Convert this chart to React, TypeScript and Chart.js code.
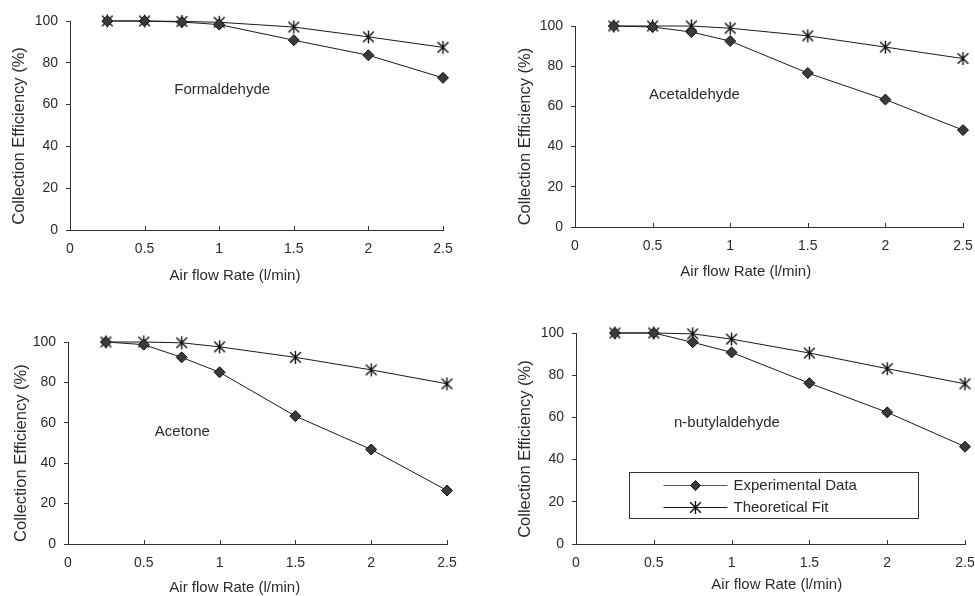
import React, { useEffect, useRef } from "react";
import { Chart, registerables } from "chart.js";

Chart.register(...registerables);

// ---------- data ----------
const flowRates = [0.25, 0.5, 0.75, 1, 1.5, 2, 2.5];

const formaldehydeExp = [100, 100, 99.5, 98.3, 90.8, 83.6, 72.8];
const formaldehydeFit = [100, 100, 99.8, 99.4, 97.1, 92.4, 87.4];

const acetaldehydeExp = [100, 99.5, 97, 92.5, 76.6, 63.4, 48.2];
const acetaldehydeFit = [100, 100, 100, 98.9, 95.1, 89.5, 83.8];

const acetoneExp = [100, 98.7, 92.4, 85, 63.3, 46.8, 26.5];
const acetoneFit = [100, 100, 99.6, 97.6, 92.4, 86.2, 79.3];

const butylExp = [100, 100, 95.6, 90.8, 76.2, 62.4, 46.1];
const butylFit = [100, 100, 99.6, 97.1, 90.5, 83.1, 75.9];

const compoundNames = ["Formaldehyde", "Acetaldehyde", "Acetone", "n-butylaldehyde"];
const seriesLabels = ["Experimental Data", "Theoretical Fit"];
const xAxisTitle = "Air flow Rate (l/min)";
const yAxisTitle = "Collection Efficiency (%)";
const xMin = 0, xMax = 2.5, xStep = 0.5;
const yMin = 0, yMax = 100, yStep = 20;

// ---------- style ----------
const FONT = "'Liberation Sans', Arial, Helvetica, sans-serif";
const TEXT = "#2b2b2b";
const AXIS = "#333333";
const LINE = "#1a1a1a";
const DIAMOND_FILL = "#3a3a3a";

type Panel = {
  name: string;
  exp: number[];
  fit: number[];
  box: { left: number; top: number; w: number; h: number };
  area: { left: number; top: number; right: number; bottom: number };
  yTitle: { px: number; y: number };
  xTitle: { x: number; dy: number };
  label: { x: number; y: number };
  legend?: { x0: number; x1: number; y0: number; y1: number };
};

const panels: Panel[] = [
  {
    name: compoundNames[0], exp: formaldehydeExp, fit: formaldehydeFit,
    box: { left: 0, top: 0, w: 490, h: 298 },
    area: { left: 70, top: 21, right: 443, bottom: 230 },
    yTitle: { px: 19, y: 45 },
    xTitle: { x: 1.106, dy: 46 },
    label: { x: 1.02, y: 67 },
  },
  {
    name: compoundNames[1], exp: acetaldehydeExp, fit: acetaldehydeFit,
    box: { left: 490, top: 0, w: 485, h: 298 },
    area: { left: 85, top: 26, right: 473, bottom: 227 },
    yTitle: { px: 35, y: 45 },
    xTitle: { x: 1.10, dy: 45 },
    label: { x: 0.77, y: 65.6 },
  },
  {
    name: compoundNames[2], exp: acetoneExp, fit: acetoneFit,
    box: { left: 0, top: 298, w: 490, h: 298 },
    area: { left: 68, top: 44, right: 447, bottom: 246 },
    yTitle: { px: 21, y: 45 },
    xTitle: { x: 1.10, dy: 44 },
    label: { x: 0.754, y: 55.5 },
  },
  {
    name: compoundNames[3], exp: butylExp, fit: butylFit,
    box: { left: 490, top: 298, w: 485, h: 298 },
    area: { left: 86, top: 35, right: 475, bottom: 246 },
    yTitle: { px: 35, y: 45 },
    xTitle: { x: 1.29, dy: 41 },
    label: { x: 0.97, y: 57.4 },
    legend: { x0: 0.342, x1: 2.198, y0: 34.1, y1: 12.2 },
  },
];

// asterisk marker: X plus a vertical stroke
function makeAsterisk(r: number): HTMLCanvasElement {
  const size = Math.ceil(r * 2 + 4);
  const c = document.createElement("canvas");
  c.width = size;
  c.height = size;
  const ctx = c.getContext("2d")!;
  const m = size / 2;
  const d = r * 0.82;
  ctx.strokeStyle = "#0a0a0a";
  ctx.lineWidth = 1.35;
  ctx.beginPath();
  ctx.moveTo(m - d, m - d); ctx.lineTo(m + d, m + d);
  ctx.moveTo(m - d, m + d); ctx.lineTo(m + d, m - d);
  ctx.moveTo(m, m - r); ctx.lineTo(m, m + r);
  ctx.stroke();
  return c;
}

function drawDiamond(ctx: CanvasRenderingContext2D, x: number, y: number, r: number) {
  ctx.beginPath();
  ctx.moveTo(x, y - r);
  ctx.lineTo(x + r, y);
  ctx.lineTo(x, y + r);
  ctx.lineTo(x - r, y);
  ctx.closePath();
  ctx.fillStyle = DIAMOND_FILL;
  ctx.fill();
  ctx.strokeStyle = "#111";
  ctx.lineWidth = 1;
  ctx.stroke();
}

const overlayPlugin = {
  id: "overlay",
  afterDatasetsDraw(chart: any, _args: any, opts: any) {
    const ctx: CanvasRenderingContext2D = chart.ctx;
    const xs = chart.scales.x, ys = chart.scales.y;
    const ca = chart.chartArea;
    ctx.save();

    // inward x tick marks
    ctx.strokeStyle = AXIS;
    ctx.lineWidth = 1;
    ctx.beginPath();
    xs.ticks.forEach((t: any) => {
      const px = Math.round(xs.getPixelForValue(t.value)) + 0.5;
      ctx.moveTo(px, ca.bottom);
      ctx.lineTo(px, ca.bottom - 4);
    });
    ctx.stroke();

    // compound name
    ctx.fillStyle = TEXT;
    ctx.font = `15px ${FONT}`;
    ctx.textAlign = "center";
    ctx.textBaseline = "middle";
    ctx.fillText(opts.text, xs.getPixelForValue(opts.pos.x), ys.getPixelForValue(opts.pos.y));

    // axis titles
    ctx.fillText(opts.xTitleText, xs.getPixelForValue(opts.xTitle.x), ca.bottom + opts.xTitle.dy);
    ctx.save();
    ctx.translate(opts.yTitle.px, ys.getPixelForValue(opts.yTitle.y));
    ctx.rotate(-Math.PI / 2);
    ctx.font = `16.5px ${FONT}`;
    ctx.fillText(opts.yTitleText, 0, 0);
    ctx.restore();

    if (opts.legend) {
      const L = opts.legend;
      const bx0 = Math.round(xs.getPixelForValue(L.x0)) + 0.5;
      const bx1 = Math.round(xs.getPixelForValue(L.x1)) + 0.5;
      const by0 = Math.round(ys.getPixelForValue(L.y0)) + 0.5;
      const by1 = Math.round(ys.getPixelForValue(L.y1)) + 0.5;
      ctx.fillStyle = "#fff";
      ctx.fillRect(bx0, by0, bx1 - bx0, by1 - by0);
      ctx.strokeStyle = "#333";
      ctx.lineWidth = 1;
      ctx.strokeRect(bx0, by0, bx1 - bx0, by1 - by0);
      const rows = [by0 + 12, by0 + 34];
      chart.data.datasets.forEach((ds: any, i: number) => {
        const ry = Math.round(rows[i]) + 0.5;
        ctx.beginPath();
        ctx.moveTo(bx0 + 34, ry);
        ctx.lineTo(bx0 + 98, ry);
        ctx.strokeStyle = i === 0 ? "#555" : LINE;
        ctx.lineWidth = 1;
        ctx.stroke();
        if (i === 0) drawDiamond(ctx, bx0 + 66, ry, 5);
        else ctx.drawImage(ds.pointStyle, Math.round(bx0 + 66 - ds.pointStyle.width / 2), Math.round(ry - ds.pointStyle.height / 2));
        ctx.fillStyle = TEXT;
        ctx.font = `15px ${FONT}`;
        ctx.textAlign = "left";
        ctx.textBaseline = "middle";
        ctx.fillText(ds.label, bx0 + 104, ry);
      });
    }
    ctx.restore();
  },
};

function PanelChart({ p }: { p: Panel }) {
  const ref = useRef<HTMLCanvasElement | null>(null);
  useEffect(() => {
    if (!ref.current) return;
    const { w, h } = p.box;
    const a = p.area;
    const asterisk = makeAsterisk(6.5);
    const chart = new Chart(ref.current, {
      type: "line",
      data: {
        datasets: [
          {
            label: seriesLabels[0],
            data: flowRates.map((x, i) => ({ x, y: p.exp[i] })),
            borderColor: LINE,
            borderWidth: 1,
            pointStyle: "rectRot",
            pointRadius: 5.5,
            pointBackgroundColor: DIAMOND_FILL,
            pointBorderColor: "#111",
            pointBorderWidth: 1,
            tension: 0,
            clip: false,
          } as any,
          {
            label: seriesLabels[1],
            data: flowRates.map((x, i) => ({ x, y: p.fit[i] })),
            borderColor: LINE,
            borderWidth: 1,
            pointStyle: asterisk,
            pointRadius: 6,
            tension: 0,
            clip: false,
          } as any,
        ],
      },
      options: {
        animation: false,
        responsive: false,
        events: [],
        layout: { padding: { left: 0, top: a.top, right: w - a.right, bottom: 0 } },
        plugins: {
          legend: { display: false },
          tooltip: { enabled: false },
          overlay: {
            text: p.name, pos: p.label, legend: p.legend,
            xTitle: p.xTitle, yTitle: p.yTitle,
            xTitleText: xAxisTitle, yTitleText: yAxisTitle,
          },
        } as any,
        scales: {
          x: {
            type: "linear",
            min: xMin,
            max: xMax,
            afterFit: (s: any) => { s.height = h - a.bottom; },
            ticks: {
              stepSize: xStep,
              padding: 0,
              color: TEXT,
              font: { size: 14, family: FONT },
              maxRotation: 0,
              autoSkip: false,
              callback: (v: any) => `${v}`,
            },
            grid: { drawOnChartArea: false, drawTicks: true, tickLength: 11, tickColor: "rgba(0,0,0,0)", color: AXIS, lineWidth: 1 },
            border: { display: true, color: AXIS, width: 1 },
            title: { display: false },
          },
          y: {
            type: "linear",
            min: yMin,
            max: yMax,
            afterFit: (s: any) => { s.width = a.left; },
            ticks: {
              stepSize: yStep,
              padding: 8,
              color: TEXT,
              font: { size: 14, family: FONT },
            },
            grid: { drawOnChartArea: false, drawTicks: true, tickLength: 4, color: AXIS, lineWidth: 1 },
            border: { display: true, color: AXIS, width: 1 },
            title: { display: false },
          },
        },
      } as any,
      plugins: [overlayPlugin],
    });
    return () => chart.destroy();
  }, [p]);
  return (
    <canvas
      ref={ref}
      width={p.box.w}
      height={p.box.h}
      style={{ position: "absolute", left: p.box.left, top: p.box.top, width: p.box.w, height: p.box.h }}
    />
  );
}

export default function App() {
  return (
    <div style={{ position: "absolute", left: 0, top: 0, width: 975, height: 596, background: "#fff", overflow: "hidden" }}>
      {panels.map((p) => (
        <PanelChart key={p.name} p={p} />
      ))}
    </div>
  );
}
